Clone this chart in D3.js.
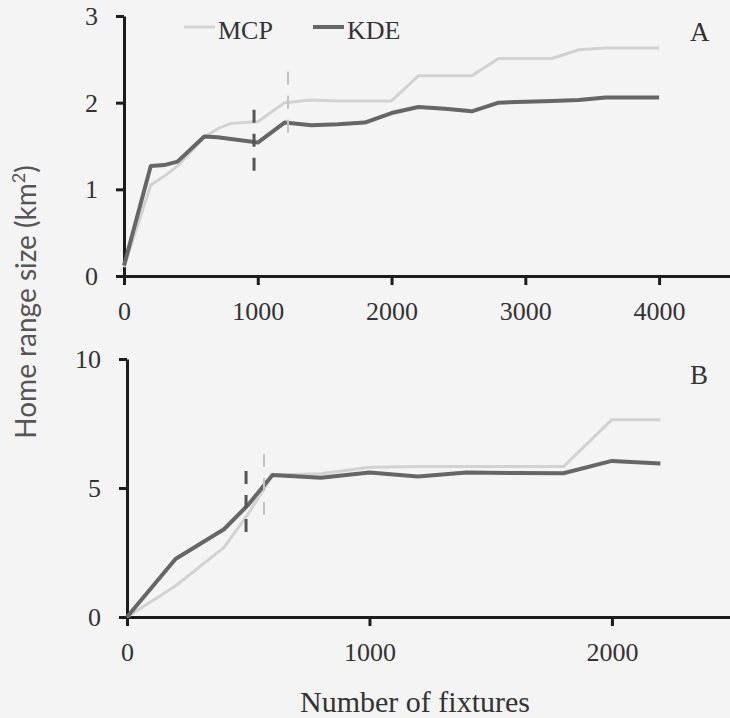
<!DOCTYPE html>
<html>
<head>
<meta charset="utf-8">
<title>Home range size vs number of fixtures</title>
<style>
    html, body { margin: 0; padding: 0; background: #f4f4f4; }
    svg { display: block; }
    .tick text { font: 26px "Liberation Serif", serif; fill: #333; }
    .axis path, .axis line { stroke: #1c1c1c; stroke-width: 3; }
    .lbl { font-family: "Liberation Serif", serif; fill: #333; }
</style>
<script src="https://cdn.jsdelivr.net/npm/d3@7"></script>
</head>
<body>
<div id="chart"></div>
<script>
    // panel A
    var fixesA = [0, 200, 300, 400, 600, 700, 800, 1000, 1200, 1400, 1600, 1800, 2000,
                  2200, 2400, 2600, 2800, 3000, 3200, 3400, 3600, 3800, 4000];
    var mcpA = [0.1, 1.05, 1.15, 1.27, 1.6, 1.7, 1.76, 1.78, 2.0, 2.03, 2.02, 2.02, 2.02,
                2.31, 2.31, 2.31, 2.51, 2.51, 2.51, 2.61, 2.63, 2.63, 2.63];
    var kdeA = [0.12, 1.27, 1.28, 1.32, 1.61, 1.6, 1.58, 1.54, 1.77, 1.74, 1.75, 1.77, 1.88,
                1.95, 1.93, 1.9, 2.0, 2.01, 2.02, 2.03, 2.06, 2.06, 2.06];
    var ticksXA = [0, 1000, 2000, 3000, 4000];
    var ticksYA = [0, 1, 2, 3];
    // dashed markers [fixes, value] : KDE then MCP
    var markA = [[972, 1.56], [1226, 2.0]];

    // panel B
    var fixesB = [0, 200, 400, 500, 600, 800, 1000, 1200, 1400, 1600, 1800, 2000, 2200];
    var mcpB = [0, 1.2, 2.7, 4.0, 5.5, 5.55, 5.8, 5.83, 5.83, 5.83, 5.83, 7.65, 7.65];
    var kdeB = [0, 2.25, 3.4, 4.35, 5.5, 5.4, 5.6, 5.45, 5.6, 5.58, 5.57, 6.05, 5.95];
    var ticksXB = [0, 1000, 2000];
    var ticksYB = [0, 5, 10];
    var markB = [[491, 4.46], [565, 5.12]];

    var W = 730, H = 718;
    var svg = d3.select('#chart').append('svg')
            .attr('width', W)
            .attr('height', H);

    function panel(p) {
        var x = d3.scaleLinear().domain([0, p.xmax]).range([p.x0, W]);
        var y = d3.scaleLinear().domain([0, p.ymax]).range([p.y0, p.y1]);

        var line = d3.line()
                .x(function(d) { return x(d[0]) })
                .y(function(d) { return y(d[1]) });

        var gx = svg.append('g')
                .attr('class', 'axis')
                .attr('transform', 'translate(0,' + y(0) + ')')
                .call(d3.axisBottom(x).tickValues(p.tx).tickFormat(d3.format('d'))
                        .tickSize(9).tickSizeOuter(0).tickPadding(26));

        var gy = svg.append('g')
                .attr('class', 'axis')
                .attr('transform', 'translate(' + x(0) + ',0)')
                .call(d3.axisLeft(y).tickValues(p.ty).tickFormat(d3.format('d'))
                        .tickSize(8).tickSizeOuter(0).tickPadding(18));

        gx.selectAll('.tick text').attr('dy', null).attr('dominant-baseline', 'central');
        gy.selectAll('.tick text').attr('dy', null).attr('dominant-baseline', 'central');

        // MCP underneath, KDE on top
        svg.append('path')
                .datum(d3.zip(p.fx, p.mcp))
                .attr('d', line)
                .attr('fill', 'none')
                .attr('stroke', '#d2d2d2')
                .attr('stroke-width', 3)
                .attr('stroke-linejoin', 'round');

        svg.append('path')
                .datum(d3.zip(p.fx, p.kde))
                .attr('d', line)
                .attr('fill', 'none')
                .attr('stroke', '#666')
                .attr('stroke-width', 4)
                .attr('stroke-linejoin', 'round');

        var mcol = ['#555', '#c4c4c4'];
        var mw = [3, 2];
        p.mark.forEach(function(m, i) {
            svg.append('line')
                    .attr('x1', x(m[0])).attr('x2', x(m[0]))
                    .attr('y1', y(m[1]) - 31).attr('y2', y(m[1]) + 31)
                    .attr('stroke', mcol[i])
                    .attr('stroke-width', mw[i])
                    .attr('stroke-dasharray', '13,11');
        });

        svg.append('text')
                .attr('class', 'lbl')
                .attr('x', 690)
                .attr('y', p.y1 + 25)
                .attr('font-size', 27)
                .text(p.name);

        return x;
    }

    panel({ name: 'A', fx: fixesA, mcp: mcpA, kde: kdeA, tx: ticksXA, ty: ticksYA, mark: markA,
            xmax: 4530, x0: 124, ymax: 3, y0: 276, y1: 16 });
    panel({ name: 'B', fx: fixesB, mcp: mcpB, kde: kdeB, tx: ticksXB, ty: ticksYB, mark: markB,
            xmax: 2487, x0: 127, ymax: 10, y0: 617, y1: 359 });

    // legend
    var legend = [['MCP', '#d4d4d4', 3, 184], ['KDE', '#666', 4, 313]];
    legend.forEach(function(l) {
        svg.append('line')
                .attr('x1', l[3]).attr('x2', l[3] + 31)
                .attr('y1', 27).attr('y2', 27)
                .attr('stroke', l[1])
                .attr('stroke-width', l[2]);
        svg.append('text')
                .attr('class', 'lbl')
                .attr('x', l[3] + 34)
                .attr('y', 39)
                .attr('font-size', 26)
                .attr('fill', '#444')
                .text(l[0]);
    });

    svg.append('text')
            .attr('class', 'lbl')
            .attr('x', 415)
            .attr('y', 712)
            .attr('text-anchor', 'middle')
            .attr('font-size', 30)
            .text('Number of fixtures');

    var yt = svg.append('text')
            .attr('transform', 'translate(36,302) rotate(-90)')
            .attr('text-anchor', 'middle')
            .attr('font-family', 'Lato, sans-serif')
            .attr('font-size', 28)
            .attr('fill', '#555');
    yt.append('tspan').text('Home range size (km');
    yt.append('tspan').attr('font-size', 18).attr('dy', -11).text('2');
    yt.append('tspan').attr('dy', 11).text(')');
</script>
</body>
</html>
